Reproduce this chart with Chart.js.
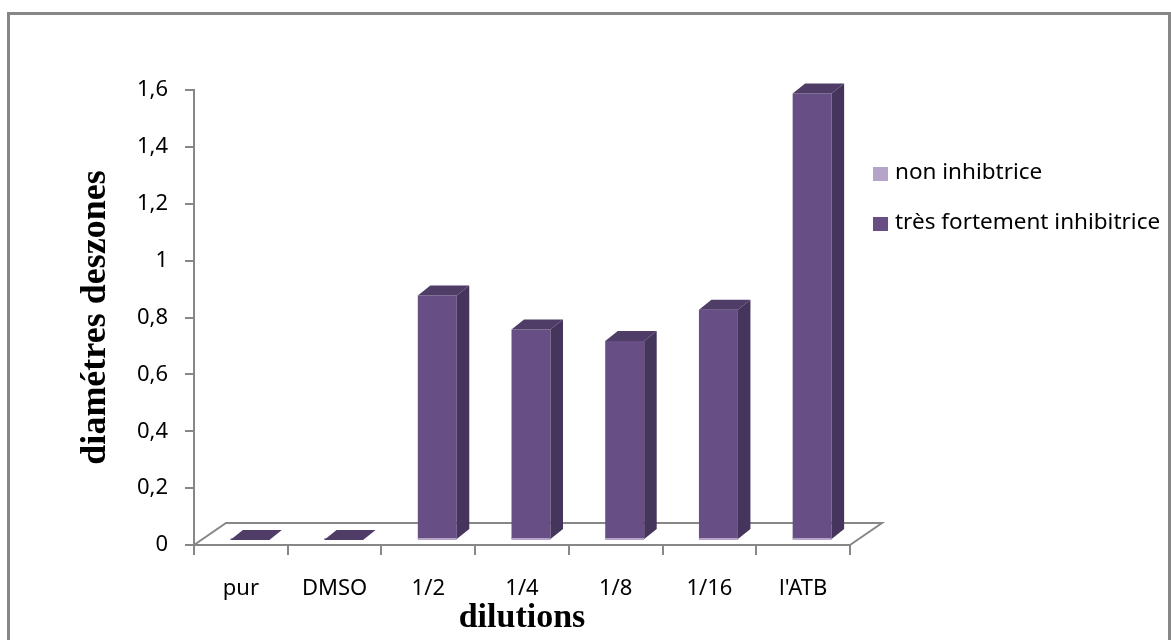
<!DOCTYPE html>
<html lang="fr">
<head>
<meta charset="utf-8">
<title>Diamètres des zones selon les dilutions</title>
<script src="https://cdn.jsdelivr.net/npm/chart.js@4.4.1/dist/chart.umd.min.js"></script>
<style>
  html, body { margin: 0; padding: 0; background: #fff; }
  canvas { display: block; }
</style>
</head>
<body>
<canvas id="graphique" width="1171" height="640"></canvas>
<script>
// Données
const categories = ['pur', 'DMSO', '1/2', '1/4', '1/8', '1/16', "l'ATB"];
const nonInhibitrice = [0, 0, 0, 0, 0, 0, 0];
const tresFortementInhibitrice = [0, 0, 0.86, 0.74, 0.70, 0.81, 1.57];
const series = ['non inhibtrice', 'très fortement inhibitrice'];
const yMax = 1.6;
const yPas = 0.2;

const couleurs = {
    clair: '#b5a4c8',
    face: '#674f85',
    dessus: '#4f3d68',
    cote: '#45345b',
    gris: '#878787'
};

// Effet 3D : sol, décalage des barres et profondeur des barres
const sol = { dx: 32, dy: -22 };
const decalage = { dx: 9, dy: -5 };
const profondeur = { dx: 12.5, dy: -10 };

// Format des graduations : 1,6 / 1 / 0
function formaterValeur(v) {
    return String(Math.round(v * 10) / 10).replace('.', ',');
}

// Cadre autour du graphique
const cadre = {
    id: 'cadre',
    beforeDraw(chart) {
        const ctx = chart.ctx;
        ctx.save();
        ctx.strokeStyle = couleurs.gris;
        ctx.lineWidth = 3;
        ctx.strokeRect(8.5, 13.5, 1161, 640);
        ctx.restore();
    }
};

// Sol en perspective + faces latérales et supérieures des barres
const relief3d = {
    id: 'relief3d',
    beforeDatasetsDraw(chart) {
        const { ctx, chartArea } = chart;
        const y0 = chart.scales.y.getPixelForValue(0);
        ctx.save();
        ctx.strokeStyle = couleurs.gris;
        ctx.lineWidth = 2;
        ctx.beginPath();
        ctx.moveTo(chartArea.left, y0);
        ctx.lineTo(chartArea.left + sol.dx, y0 + sol.dy);
        ctx.lineTo(chartArea.right + sol.dx, y0 + sol.dy);
        ctx.lineTo(chartArea.right, y0);
        ctx.stroke();
        ctx.restore();

        // les barres sont posées au milieu du sol
        ctx.save();
        ctx.translate(decalage.dx, decalage.dy);
    },
    afterDatasetsDraw(chart) {
        const ctx = chart.ctx;

        // liseré de la série "non inhibtrice"
        chart.getDatasetMeta(0).data.forEach(function (barre) {
            const { x, base, width } = barre.getProps(['x', 'base', 'width'], true);
            ctx.fillStyle = couleurs.clair;
            ctx.fillRect(x - width / 2, base - 2, width, 2);
        });

        chart.getDatasetMeta(1).data.forEach(function (barre) {
            const { x, y, base, width } = barre.getProps(['x', 'y', 'base', 'width'], true);
            const g = x - width / 2;
            const d = x + width / 2;

            // face du dessus
            ctx.fillStyle = couleurs.dessus;
            ctx.beginPath();
            ctx.moveTo(g, y);
            ctx.lineTo(d, y);
            ctx.lineTo(d + profondeur.dx, y + profondeur.dy);
            ctx.lineTo(g + profondeur.dx, y + profondeur.dy);
            ctx.closePath();
            ctx.fill();

            // face de côté
            if (base - y > 0.5) {
                ctx.fillStyle = couleurs.cote;
                ctx.beginPath();
                ctx.moveTo(d, y);
                ctx.lineTo(d + profondeur.dx, y + profondeur.dy);
                ctx.lineTo(d + profondeur.dx, base + profondeur.dy);
                ctx.lineTo(d, base);
                ctx.closePath();
                ctx.fill();
            }
        });

        ctx.restore();
    }
};

// Légende à droite
const legendeLaterale = {
    id: 'legendeLaterale',
    afterDraw(chart) {
        const ctx = chart.ctx;
        ctx.save();
        ctx.font = '22.5px "Noto Sans"';
        ctx.textBaseline = 'middle';
        ctx.textAlign = 'left';
        chart.data.datasets.forEach(function (ds, i) {
            const yc = 174 + i * 50;
            ctx.fillStyle = ds.backgroundColor;
            ctx.fillRect(873, yc - 7, 15, 14);
            ctx.fillStyle = '#000';
            ctx.fillText(ds.label, 895, yc - 1);
        });
        ctx.restore();
    }
};

const ctx = document.getElementById('graphique').getContext('2d');

new Chart(ctx, {
    type: 'bar',
    data: {
        labels: categories,
        datasets: [
            {
                label: series[0],
                data: nonInhibitrice,
                backgroundColor: couleurs.clair,
                barPercentage: 0.416,
                categoryPercentage: 1,
                clip: false
            },
            {
                label: series[1],
                data: tresFortementInhibitrice,
                backgroundColor: couleurs.face,
                barPercentage: 0.416,
                categoryPercentage: 1,
                clip: false
            }
        ]
    },
    options: {
        responsive: false,
        animation: false,
        layout: {
            padding: { top: 90, right: 321, bottom: 0, left: 0 }
        },
        plugins: {
            legend: { display: false },
            tooltip: { enabled: false }
        },
        scales: {
            x: {
                stacked: true,
                grid: {
                    offset: true,
                    drawOnChartArea: false,
                    color: couleurs.gris,
                    lineWidth: 2,
                    tickLength: 10
                },
                border: { color: couleurs.gris, width: 2 },
                ticks: {
                    color: '#000',
                    padding: 21,
                    maxRotation: 0,
                    font: { family: 'Noto Sans', size: 22 }
                },
                title: {
                    display: true,
                    text: 'dilutions',
                    color: '#000',
                    padding: { top: 0, bottom: 1 },
                    font: { family: 'Liberation Serif', size: 34, weight: 'bold' }
                },
                afterFit(scale) {
                    scale.height = 95;
                }
            },
            y: {
                stacked: true,
                min: 0,
                max: yMax,
                grid: {
                    drawOnChartArea: false,
                    color: couleurs.gris,
                    lineWidth: 2,
                    tickLength: 9
                },
                border: { color: couleurs.gris, width: 2 },
                ticks: {
                    stepSize: yPas,
                    color: '#000',
                    padding: 17,
                    font: { family: 'Noto Sans', size: 22 },
                    callback: function (valeur) {
                        return formaterValeur(valeur);
                    }
                },
                title: {
                    display: true,
                    text: 'diamétres deszones',
                    color: '#000',
                    padding: { top: 74.5, bottom: 0 },
                    font: { family: 'Liberation Serif', size: 36, weight: 'bold' }
                },
                afterFit(scale) {
                    scale.width = 194;
                }
            }
        }
    },
    plugins: [cadre, relief3d, legendeLaterale]
});
</script>
</body>
</html>
